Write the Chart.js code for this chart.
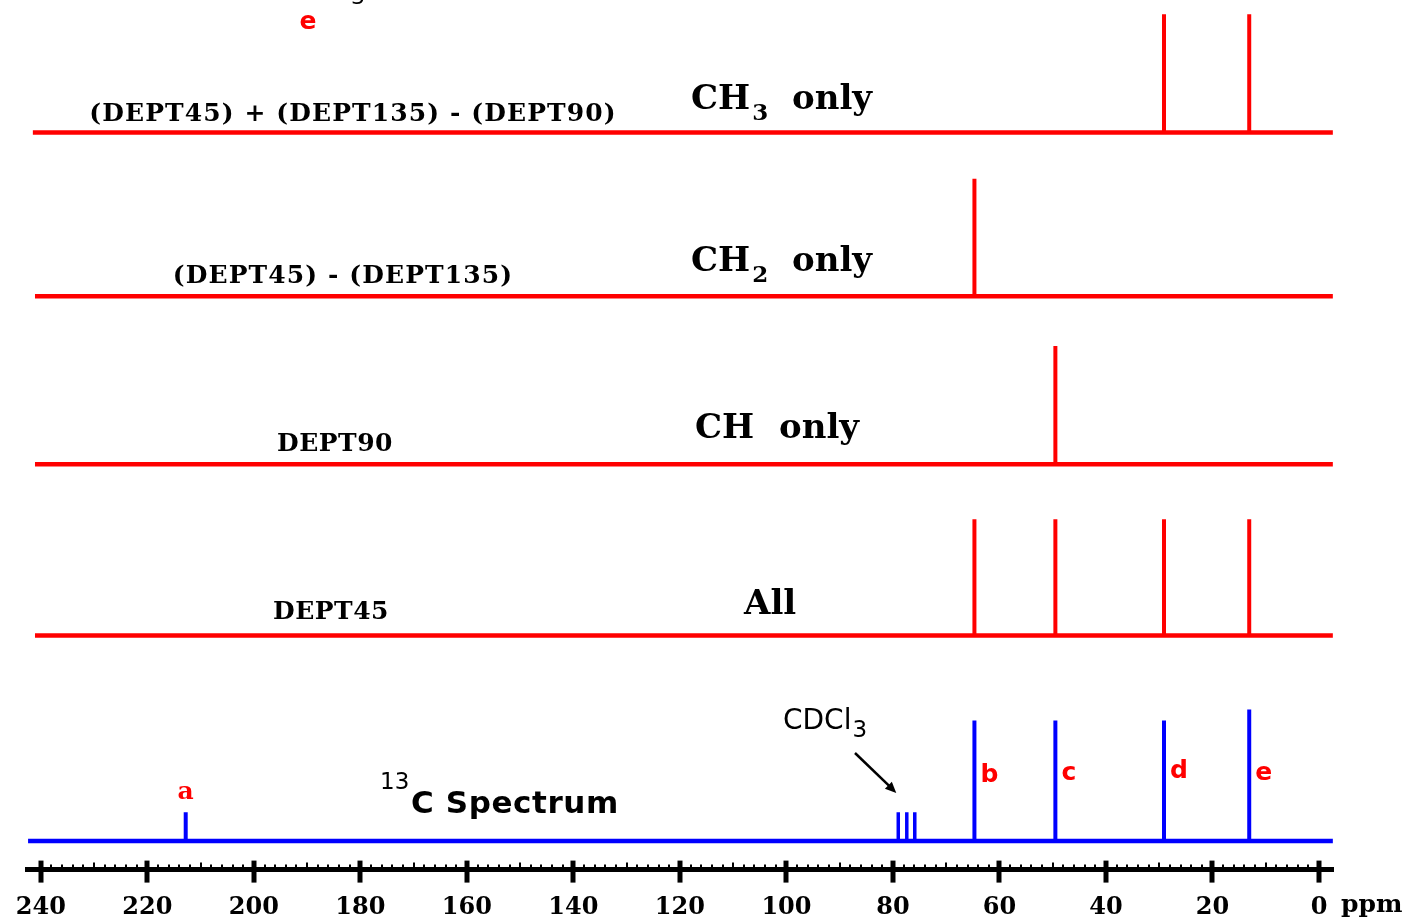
<!DOCTYPE html>
<html>
<head>
<meta charset="utf-8">
<script src="https://cdn.jsdelivr.net/npm/chart.js@4"></script>
<style>
  html, body { margin: 0; padding: 0; background: #ffffff; }
  #wrap { width: 1409px; height: 923px; position: relative; }
</style>
</head>
<body>
<div id="wrap"><canvas id="c" width="1409" height="923"></canvas></div>
<script>
// ---------------- DATA ----------------
// chemical shift axis ticks (ppm)
const ppmTicks = [0, 20, 40, 60, 80, 100, 120, 140, 160, 180, 200, 220, 240];
const ppmTickLabels = ['0', '20', '40', '60', '80', '100', '120', '140', '160', '180', '200', '220', '240'];

// 13C spectrum peaks a..e
const carbonNames = ['a', 'b', 'c', 'd', 'e'];
const carbonShifts = [212.8, 64.7, 49.5, 29.1, 13.1];
const carbonIntensity = [3.3, 13.85, 13.85, 13.85, 15.1];

// CDCl3 solvent triplet
const solventShifts = [79.0, 77.4, 75.9];
const solventIntensity = [3.3, 3.3, 3.3];

// DEPT45 (all protonated carbons)
const dept45Shifts = [64.7, 49.5, 29.1, 13.1];
const dept45Intensity = [13.35, 13.35, 13.35, 13.35];

// DEPT90 (CH only)
const dept90Shifts = [49.5];
const dept90Intensity = [13.6];

// (DEPT45) - (DEPT135) : CH2 only
const ch2Shifts = [64.7];
const ch2Intensity = [13.5];

// (DEPT45) + (DEPT135) - (DEPT90) : CH3 only
const ch3Shifts = [29.1, 13.1];
const ch3Intensity = [13.6, 13.6];

// spectral window drawn for each trace (ppm, left end / right end)
const traceStart = [241.5, 241.1, 241.1, 241.1, 242.4];
const traceEnd = [-2.6, -2.6, -2.6, -2.6, -2.6];

// ---------------- LAYOUT (vertical offset of each trace) ----------------
const traceOffset = [84.75, 65.94, 46.6, 26.93, 3.3]; // CH3, CH2, CH, DEPT45, 13C
const RED = '#ff0000', BLUE = '#0000ff';

function baselineData(i) {
  return [{ x: traceStart[i], y: traceOffset[i] }, { x: traceEnd[i], y: traceOffset[i] }];
}
function stickData(shifts, heights, i) {
  const out = [];
  shifts.forEach((s, k) => {
    out.push({ x: s, y: traceOffset[i] });
    out.push({ x: s, y: traceOffset[i] + heights[k] });
    out.push({ x: s, y: null });
  });
  return out;
}
function ds(data, color, width) {
  return {
    data, borderColor: color, backgroundColor: color, borderWidth: width,
    pointRadius: 0, pointHoverRadius: 0, tension: 0, spanGaps: false,
    borderCapStyle: 'butt', borderJoinStyle: 'miter', fill: false
  };
}

const datasets = [
  ds(baselineData(0), RED, 4.5), ds(stickData(ch3Shifts, ch3Intensity, 0), RED, 4),
  ds(baselineData(1), RED, 4.5), ds(stickData(ch2Shifts, ch2Intensity, 1), RED, 4),
  ds(baselineData(2), RED, 4.5), ds(stickData(dept90Shifts, dept90Intensity, 2), RED, 4),
  ds(baselineData(3), RED, 4.5), ds(stickData(dept45Shifts, dept45Intensity, 3), RED, 4),
  ds(baselineData(4), BLUE, 4.5), ds(stickData(carbonShifts, carbonIntensity, 4), BLUE, 4),
  ds(stickData(solventShifts, solventIntensity, 4), BLUE, 3.5)
];

// ---------------- plugin: minor/major ticks + annotations ----------------
const SERIF = '"DejaVu Serif", "Liberation Serif", serif';
const SANS = '"DejaVu Sans", "Liberation Sans", sans-serif';

function put(ctx, s, x, y, font, color, align, spacing) {
  ctx.font = font; ctx.fillStyle = color || '#000';
  ctx.textAlign = align || 'left'; ctx.textBaseline = 'alphabetic';
  ctx.letterSpacing = (spacing || 0) + 'px';
  ctx.fillText(s, x, y);
  const w = ctx.measureText(s).width;
  ctx.letterSpacing = '0px';
  return w;
}

const nmrDecor = {
  id: 'nmrDecor',
  afterDraw(chart) {
    const ctx = chart.ctx, xs = chart.scales.x, ys = chart.scales.y;
    const y0 = chart.chartArea.bottom;
    ctx.save();
    // tick marks every 2 ppm, medium at 10, major at 20
    ctx.strokeStyle = '#000';
    for (let v = 0; v <= 240; v += 2) {
      const px = Math.round(xs.getPixelForValue(v));
      ctx.beginPath();
      if (v % 20 === 0) { ctx.lineWidth = 5; ctx.moveTo(px, y0 - 9); ctx.lineTo(px, y0 + 13); }
      else if (v % 10 === 0) { ctx.lineWidth = 2; ctx.moveTo(px, y0 - 7); ctx.lineTo(px, y0); }
      else { ctx.lineWidth = 2; ctx.moveTo(px, y0 - 5); ctx.lineTo(px, y0); }
      ctx.stroke();
    }
    put(ctx, 'ppm', 1341, 912, 'bold 25px ' + SERIF, '#000');

    // partial structure labels at top
    put(ctx, 'e', 308, 29, 'bold 25px ' + SANS, RED, 'center');
    put(ctx, '3', 358, 4, '22px ' + SANS, '#000', 'center');

    // trace titles
    put(ctx, '(DEPT45) + (DEPT135) - (DEPT90)', 353, 121, 'bold 25px ' + SERIF, '#000', 'center', 1.1);
    let w = put(ctx, 'CH', 691, 109, 'bold 34px ' + SERIF, '#000');
    put(ctx, '3', 691 + w + 2, 120, 'bold 23px ' + SERIF, '#000');
    put(ctx, 'only', 792, 109, 'bold 34px ' + SERIF, '#000');

    put(ctx, '(DEPT45) - (DEPT135)', 343, 283, 'bold 25px ' + SERIF, '#000', 'center', 1.1);
    w = put(ctx, 'CH', 691, 271, 'bold 34px ' + SERIF, '#000');
    put(ctx, '2', 691 + w + 2, 282, 'bold 23px ' + SERIF, '#000');
    put(ctx, 'only', 792, 271, 'bold 34px ' + SERIF, '#000');

    put(ctx, 'DEPT90', 335, 451, 'bold 25px ' + SERIF, '#000', 'center', 0.5);
    put(ctx, 'CH', 695, 438, 'bold 34px ' + SERIF, '#000');
    put(ctx, 'only', 779, 438, 'bold 34px ' + SERIF, '#000');

    put(ctx, 'DEPT45', 331, 619, 'bold 25px ' + SERIF, '#000', 'center', 0.5);
    put(ctx, 'All', 744, 614, 'bold 34px ' + SERIF, '#000');

    // 13C spectrum peak labels
    const base = ys.getPixelForValue(traceOffset[4]);
    carbonNames.forEach((n, i) => {
      const px = xs.getPixelForValue(carbonShifts[i]);
      const top = ys.getPixelForValue(traceOffset[4] + carbonIntensity[i]);
      if (i === 0) put(ctx, n, px, top - 13, 'bold 25px ' + SERIF, RED, 'center');
      else put(ctx, n, px + 6, base - (i === 3 ? 63 : (i === 1 ? 59 : 61)), 'bold 25px ' + SANS, RED);
    });

    // CDCl3 label with arrow
    w = put(ctx, 'CDCl', 783, 729, '28px ' + SANS, '#000');
    put(ctx, '3', 783 + w + 1, 737, '23px ' + SANS, '#000');
    const ax0 = 855, ay0 = 753;
    const tipX = xs.getPixelForValue(solventShifts[0]) - 2;
    const tipY = base - 48;
    ctx.strokeStyle = '#000'; ctx.lineWidth = 2.5;
    ctx.beginPath(); ctx.moveTo(ax0, ay0); ctx.lineTo(tipX - 5, tipY - 5); ctx.stroke();
    const ang = Math.atan2(tipY - ay0, tipX - ax0);
    ctx.fillStyle = '#000';
    ctx.beginPath();
    ctx.moveTo(tipX, tipY);
    ctx.lineTo(tipX - 11 * Math.cos(ang) + 5 * Math.sin(ang), tipY - 11 * Math.sin(ang) - 5 * Math.cos(ang));
    ctx.lineTo(tipX - 11 * Math.cos(ang) - 5 * Math.sin(ang), tipY - 11 * Math.sin(ang) + 5 * Math.cos(ang));
    ctx.closePath(); ctx.fill();

    // 13C Spectrum
    put(ctx, '13', 380, 789, '23px ' + SANS, '#000');
    put(ctx, 'C Spectrum', 411, 813, 'bold 31px ' + SANS, '#000', null, 0.6);
    ctx.restore();
  }
};

new Chart(document.getElementById('c'), {
  type: 'line',
  data: { datasets },
  options: {
    responsive: false,
    animation: false,
    events: [],
    layout: { padding: { left: 27, right: 76, top: 0, bottom: -23.4 } },
    plugins: { legend: { display: false }, tooltip: { enabled: false } },
    scales: {
      x: {
        type: 'linear', reverse: true, min: -2.63, max: 242.6, position: 'bottom',
        grid: { display: false, drawTicks: false },
        border: { display: true, color: '#000', width: 5 },
        afterBuildTicks: (s) => { s.ticks = ppmTicks.map(v => ({ value: v })); },
        ticks: {
          autoSkip: false, maxRotation: 0, minRotation: 0, padding: 24, color: '#000',
          font: { family: SERIF, weight: 'bold', size: 24 },
          callback: (v) => { const i = ppmTicks.indexOf(v); return i >= 0 ? ppmTickLabels[i] : ''; }
        }
      },
      y: { type: 'linear', display: false, min: 0, max: 100 }
    }
  },
  plugins: [nmrDecor]
});
</script>
</body>
</html>
